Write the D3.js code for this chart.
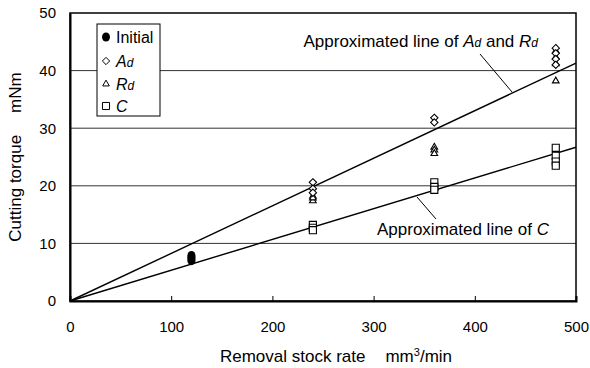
<!DOCTYPE html>
<html>
<head>
<meta charset="utf-8">
<script src="https://cdn.jsdelivr.net/npm/d3@7"></script>
<style>
  html, body { margin: 0; padding: 0; background: #fff; }
  svg { display: block; font-family: "Liberation Sans", Arial, sans-serif; }
</style>
</head>
<body>
<svg id="chart" width="590" height="368"></svg>
<script>
var xTicks = [0, 100, 200, 300, 400, 500];
var yTicks = [0, 10, 20, 30, 40, 50];

var initialPts = [[120, 7.0], [120, 7.3], [120, 7.6], [120, 7.9]];
var adPts = [[240, 20.6], [240, 19.5], [240, 18.8], [360, 31.8], [360, 31.0],
             [480, 43.9], [480, 43.0], [480, 42.0], [480, 41.0]];
var rdPts = [[240, 18.2], [240, 17.4], [240, 17.9], [360, 26.7], [360, 26.2], [360, 25.6],
             [480, 43.4], [480, 42.3], [480, 41.2], [480, 38.2]];
var cPts = [[240, 13.2], [240, 12.7], [240, 12.3], [360, 20.6], [360, 19.8], [360, 19.3],
            [480, 26.6], [480, 25.2], [480, 24.2], [480, 23.5]];

// fitted lines through origin: [x, y] end points
var adRdLine = [[0, 0], [500, 41.3]];
var cLine = [[0, 0], [500, 26.7]];

var svg = d3.select('#chart');
var plotL = 70, plotR = 576, plotT = 13, plotB = 301;
var FONT = '"Liberation Sans", Arial, sans-serif';

var x = d3.scaleLinear().domain([0, 500]).range([plotL, plotR]);
var y = d3.scaleLinear().domain([0, 50]).range([plotB, plotT]);

// gridlines
svg.append('g').selectAll('line')
  .data(yTicks.filter(function(d) { return d > 0 && d < 50; }))
  .enter().append('line')
  .attr('x1', plotL).attr('x2', plotR)
  .attr('y1', function(d) { return y(d); }).attr('y2', function(d) { return y(d); })
  .attr('stroke', '#333').attr('stroke-width', 1);

// plot frame
svg.append('rect')
  .attr('x', plotL).attr('y', plotT)
  .attr('width', plotR - plotL).attr('height', plotB - plotT)
  .attr('fill', 'none').attr('stroke', '#000').attr('stroke-width', 1.5);

// axes
var xAxis = d3.axisBottom(x).tickValues(xTicks).tickSize(-5).tickPadding(20);
var gx = svg.append('g').attr('transform', 'translate(0,' + plotB + ')').call(xAxis);
gx.select('.domain').attr('stroke', '#000').attr('stroke-width', 2);
gx.selectAll('.tick line').attr('stroke', '#000');
gx.selectAll('text').attr('font-size', 15).attr('fill', '#000').attr('font-family', FONT);

var yAxis = d3.axisLeft(y).tickValues(yTicks).tickSize(0).tickPadding(14);
var gy = svg.append('g').attr('transform', 'translate(' + plotL + ',0)').call(yAxis);
gy.select('.domain').attr('stroke', '#000').attr('stroke-width', 2);
gy.selectAll('text').attr('font-size', 15).attr('fill', '#000').attr('font-family', FONT);

// axis titles
var xt = svg.append('text')
  .attr('x', 336).attr('y', 362)
  .attr('text-anchor', 'middle').attr('font-size', 17);
xt.append('tspan').text('Removal stock rate');
xt.append('tspan').attr('dx', 20).text('mm');
xt.append('tspan').attr('font-size', 11).attr('dy', -6).text('3');
xt.append('tspan').attr('dy', 6).text('/min');

var yt = svg.append('text')
  .attr('transform', 'translate(21,157) rotate(-90)')
  .attr('text-anchor', 'middle').attr('font-size', 17);
yt.append('tspan').text('Cutting torque');
yt.append('tspan').attr('dx', 22).text('mNm');

// fitted lines
var line = d3.line().x(function(d) { return x(d[0]); }).y(function(d) { return y(d[1]); });
svg.append('path').datum(adRdLine).attr('d', line)
  .attr('fill', 'none').attr('stroke', '#000').attr('stroke-width', 1.4);
svg.append('path').datum(cLine).attr('d', line)
  .attr('fill', 'none').attr('stroke', '#000').attr('stroke-width', 1.4);

// markers
var diamond = d3.symbol().type(d3.symbolDiamond2).size(34);
var triangle = d3.symbol().type(d3.symbolTriangle2).size(32);
var square = d3.symbol().type(d3.symbolSquare2).size(64);

svg.append('g').selectAll('ellipse').data(initialPts).enter().append('ellipse')
  .attr('cx', function(d) { return x(d[0]); }).attr('cy', function(d) { return y(d[1]); })
  .attr('rx', 4).attr('ry', 4.5).attr('fill', '#000');

function hollow(data, sym) {
  svg.append('g').selectAll('path').data(data).enter().append('path')
    .attr('transform', function(d) { return 'translate(' + x(d[0]) + ',' + y(d[1]) + ')'; })
    .attr('d', sym)
    .attr('fill', '#fff').attr('stroke', '#000').attr('stroke-width', 1.1);
}
hollow(cPts, square);
hollow(rdPts, triangle);
hollow(adPts, diamond);

// annotations (leader lines in pixel space, taken from the figure)
function leader(x1, y1, x2, y2) {
  svg.append('line')
    .attr('x1', x1).attr('y1', y1).attr('x2', x2).attr('y2', y2)
    .attr('stroke', '#000').attr('stroke-width', 1);
}
leader(480, 54, 512, 92);
leader(417, 197, 436, 219);

var a1 = svg.append('text').attr('x', 538).attr('y', 47)
  .attr('text-anchor', 'end').attr('font-size', 17);
a1.append('tspan').text('Approximated line of ');
a1.append('tspan').attr('font-style', 'italic').text('A');
a1.append('tspan').attr('font-style', 'italic').attr('font-size', 12).text('d');
a1.append('tspan').text(' and ');
a1.append('tspan').attr('font-style', 'italic').text('R');
a1.append('tspan').attr('font-style', 'italic').attr('font-size', 12).text('d');

var a2 = svg.append('text').attr('x', 377).attr('y', 235).attr('font-size', 17);
a2.append('tspan').text('Approximated line of ');
a2.append('tspan').attr('font-style', 'italic').text('C');

// legend
var lg = svg.append('g');
lg.append('rect').attr('x', 97).attr('y', 24).attr('width', 63).attr('height', 92)
  .attr('fill', '#fff').attr('stroke', '#000').attr('stroke-width', 1);
var legendRows = [
  { label: 'Initial', sub: '', italic: false, y: 37 },
  { label: 'A', sub: 'd', italic: true, y: 61 },
  { label: 'R', sub: 'd', italic: true, y: 84 },
  { label: 'C', sub: '', italic: true, y: 106 }
];
lg.append('ellipse').attr('cx', 106).attr('cy', legendRows[0].y).attr('rx', 4).attr('ry', 4.5).attr('fill', '#000');
lg.append('path').attr('transform', 'translate(106,' + legendRows[1].y + ')').attr('d', diamond)
  .attr('fill', '#fff').attr('stroke', '#000');
lg.append('path').attr('transform', 'translate(106,' + legendRows[2].y + ')').attr('d', triangle)
  .attr('fill', '#fff').attr('stroke', '#000');
lg.append('path').attr('transform', 'translate(106,' + legendRows[3].y + ')').attr('d', square)
  .attr('fill', '#fff').attr('stroke', '#000');
legendRows.forEach(function(r) {
  var t = lg.append('text').attr('x', 116).attr('y', r.y + 6).attr('font-size', 16);
  t.append('tspan').attr('font-style', r.italic ? 'italic' : 'normal').text(r.label);
  if (r.sub) t.append('tspan').attr('font-style', 'italic').attr('font-size', 12).text(r.sub);
});
</script>
</body>
</html>
